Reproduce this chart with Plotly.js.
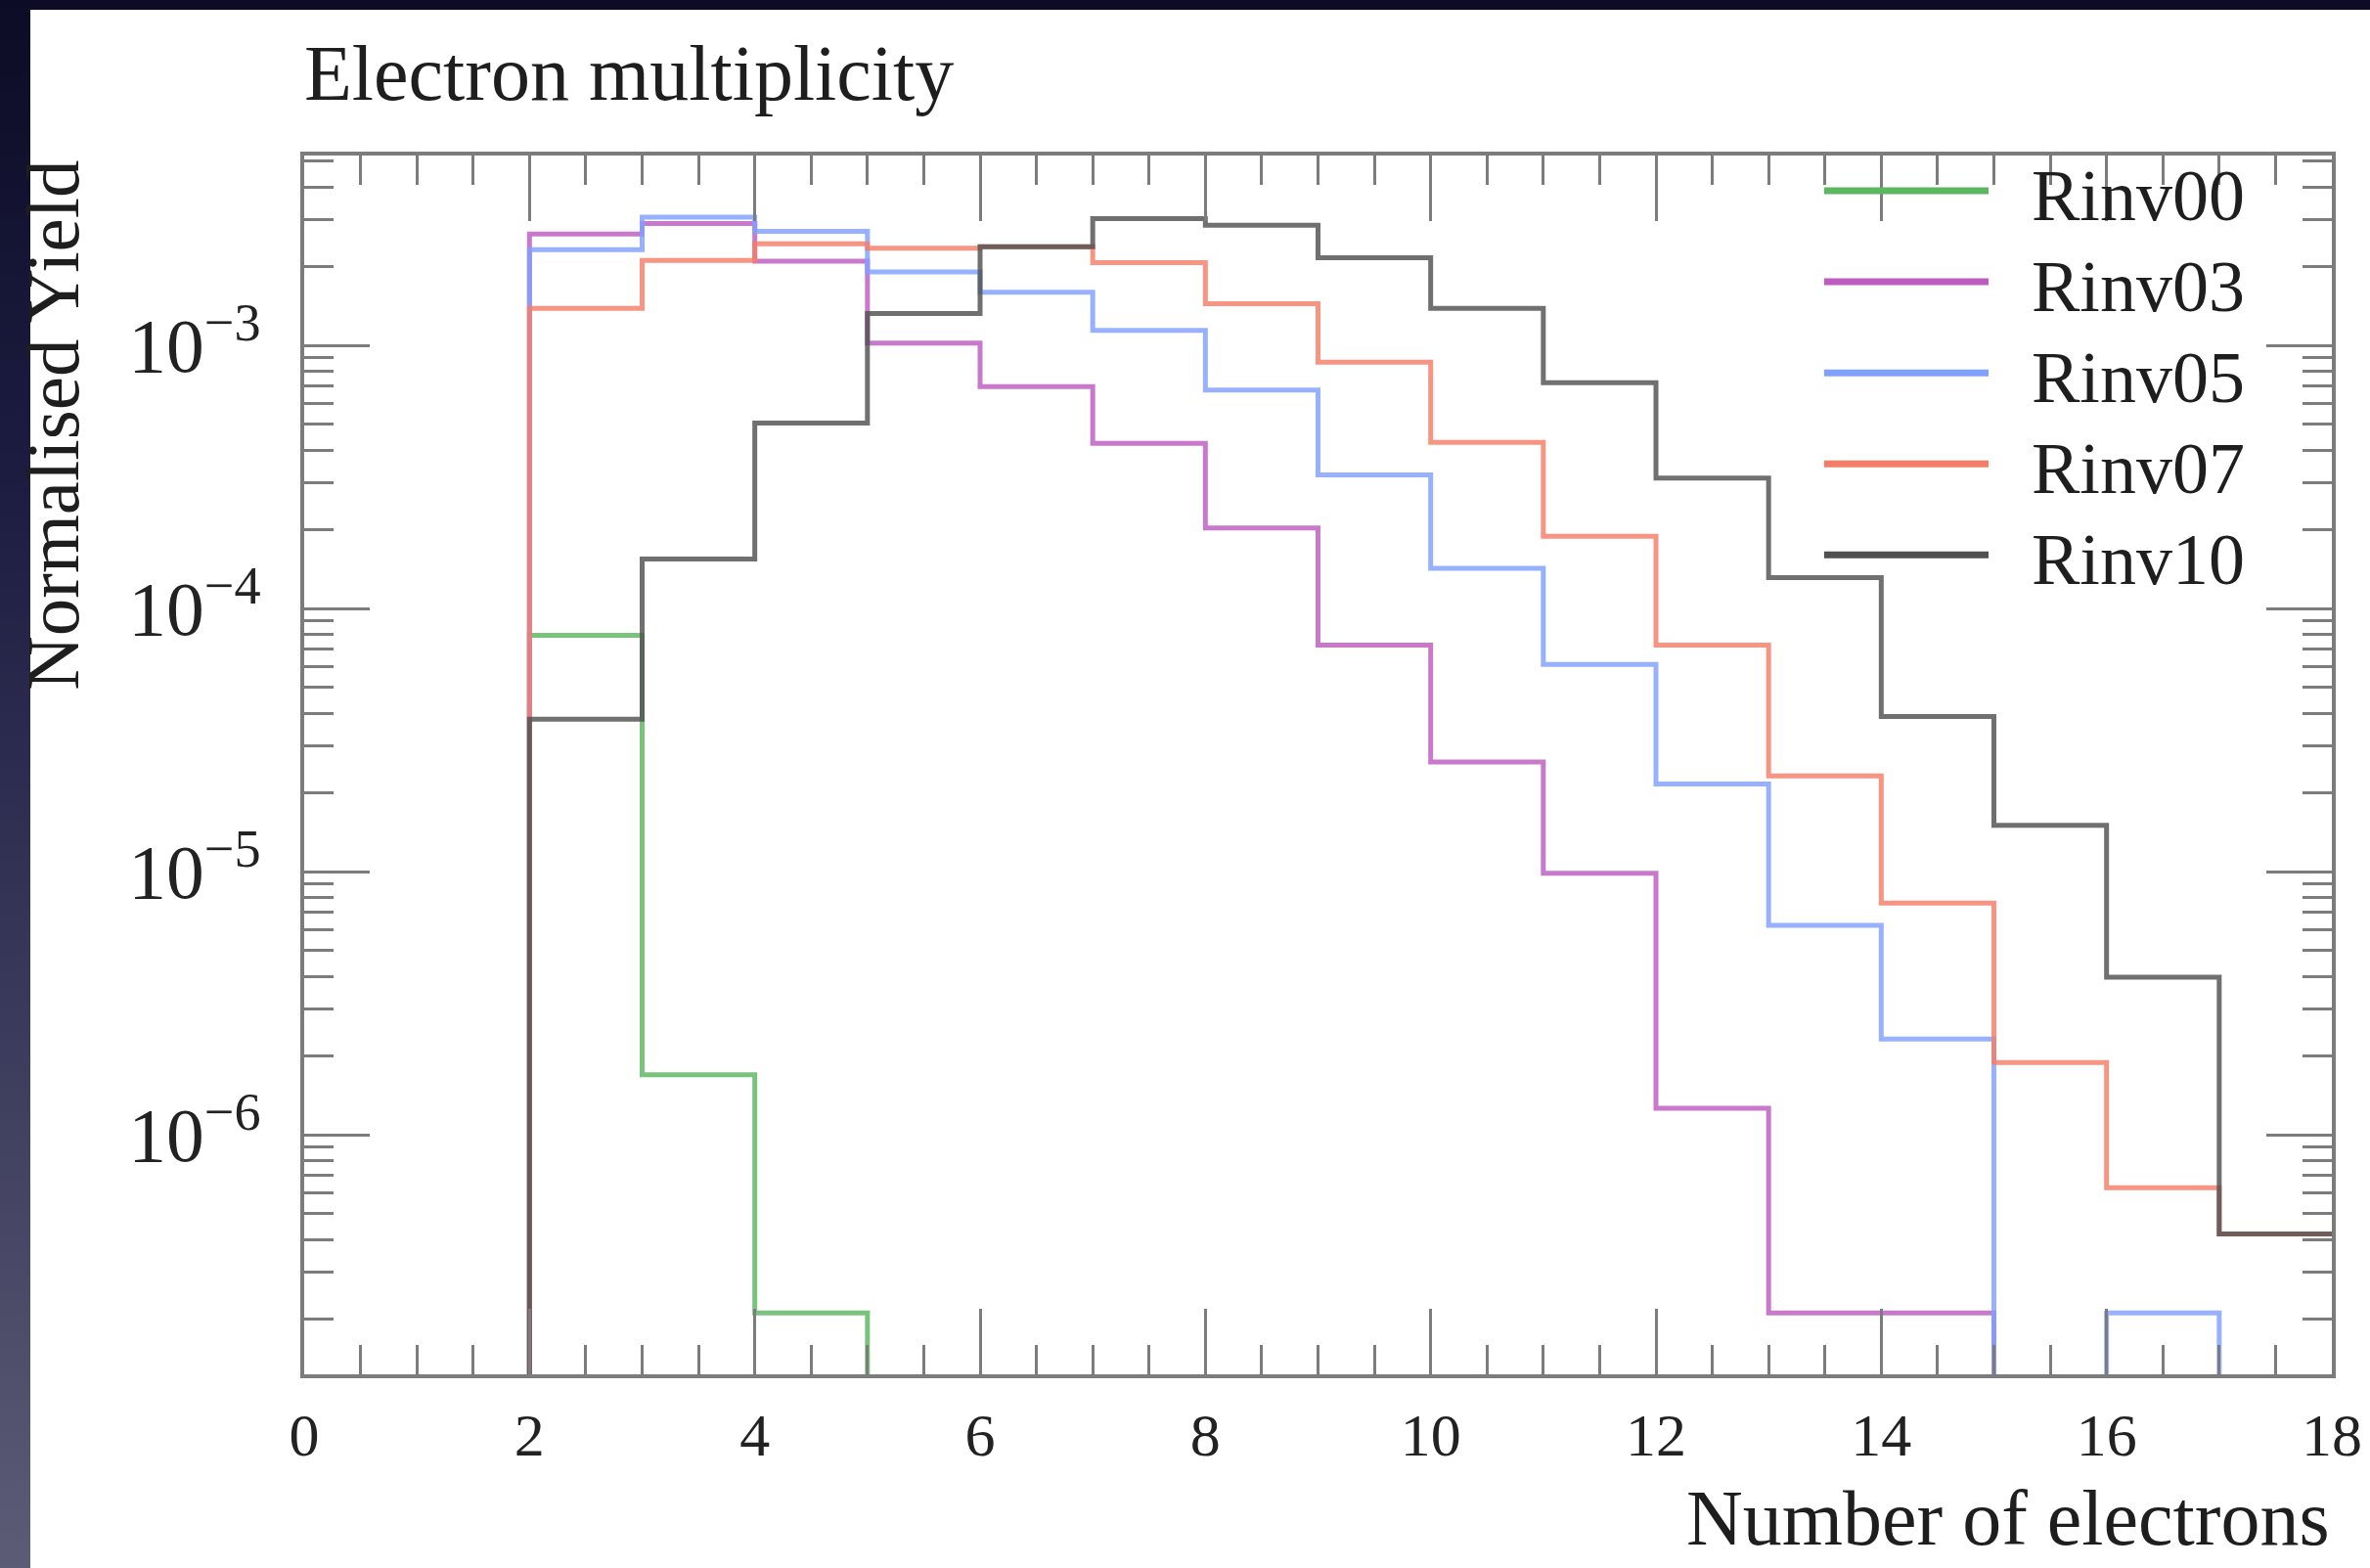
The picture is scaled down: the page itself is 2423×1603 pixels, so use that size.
<!DOCTYPE html>
<html>
<head>
<meta charset="utf-8">
<script src="https://cdn.plot.ly/plotly-3.0.1.min.js"></script>
<style>
  html, body { margin: 0; padding: 0; }
  body {
    width: 2423px; height: 1603px; overflow: hidden; position: relative;
    background: linear-gradient(to bottom, #0c0c26 0%, #1c1c40 30%, #3a3a5a 65%, #5c5c77 100%);
  }
  #chart {
    position: absolute; left: 0; top: 10px; width: 2423px; height: 1593px;
    background: linear-gradient(to right, rgba(0,0,0,0) 0px, rgba(0,0,0,0) 31px, #ffffff 31px, #ffffff 100%);
  }
</style>
</head>
<body>
<div id="chart"></div>
<script>
// ---- data (bin edges 0..18, one value per unit-wide bin) ----
const binEdges = [0,1,2,3,4,5,6,7,8,9,10,11,12,13,14,15,16,17,18];
const seriesNames = ["Rinv00", "Rinv03", "Rinv05", "Rinv07", "Rinv10"];
const rinv00 = [0,0,7.9e-5,1.69e-6,2.1e-7,0,0,0,0,0,0,0,0,0,0,0,0,0];
const rinv03 = [0,0,2.65e-3,2.90e-3,2.09e-3,1.02e-3,6.97e-4,4.24e-4,2.02e-4,7.26e-5,2.61e-5,9.86e-6,1.26e-6,2.1e-7,2.1e-7,0,0,0];
const rinv05 = [0,0,2.31e-3,3.07e-3,2.71e-3,1.90e-3,1.59e-3,1.14e-3,6.76e-4,3.22e-4,1.42e-4,6.12e-5,2.15e-5,6.25e-6,2.31e-6,0,2.1e-7,0];
const rinv07 = [0,0,1.38e-3,2.10e-3,2.43e-3,2.34e-3,2.37e-3,2.06e-3,1.44e-3,8.62e-4,4.28e-4,1.88e-4,7.26e-5,2.31e-5,7.59e-6,1.88e-6,6.29e-7,4.19e-7];
const rinv10 = [0,0,3.79e-5,1.54e-4,5.06e-4,1.32e-3,2.37e-3,3.03e-3,2.86e-3,2.15e-3,1.38e-3,7.21e-4,3.13e-4,1.31e-4,3.88e-5,1.50e-5,3.97e-6,4.19e-7];
const xTickVals = [0,2,4,6,8,10,12,14,16,18];
const xTickText = ["0","2","4","6","8","10","12","14","16","18"];

const seriesValues = [rinv00, rinv03, rinv05, rinv07, rinv10];
const seriesColors = ["#5cb660", "#bd5cc0", "#80a0ff", "#f57c66", "#505050"];

// empty bins are drawn at a level below the visible axis range (histogram drops to the frame)
const FLOOR = 1e-10;
const FONT = "Liberation Serif, Times New Roman, serif";

const traces = seriesValues.map((vals, i) => {
  const y = vals.map(v => (v > 0 ? v : FLOOR));
  y.push(y[y.length - 1]);
  return {
    type: "scatter",
    mode: "lines",
    name: seriesNames[i],
    x: binEdges,
    y: y,
    line: { shape: "hv", color: seriesColors[i], width: 5 },
    opacity: 0.82,
    showlegend: false,
    hoverinfo: "skip"
  };
});

// manual legend (long line samples, like the reference)
const legendTop = 0.9711, legendStep = 0.0747;
const shapes = seriesNames.map((n, i) => ({
  type: "line", xref: "paper", yref: "paper",
  x0: 0.7496, x1: 0.8307,
  y0: legendTop - i * legendStep, y1: legendTop - i * legendStep,
  line: { color: seriesColors[i], width: 7 }
}));
const annotations = seriesNames.map((n, i) => ({
  text: n, xref: "paper", yref: "paper",
  x: 0.851, xanchor: "left",
  y: legendTop - i * legendStep - 0.004, yanchor: "middle",
  showarrow: false,
  font: { family: FONT, size: 74, color: "#1e1e1e" }
}));
annotations.push({
  text: "Number of electrons", xref: "paper", yref: "paper",
  x: 1, xanchor: "right", y: -0.118, yanchor: "middle", showarrow: false,
  font: { family: FONT, size: 80, color: "#1e1e1e" }
});
annotations.push({
  text: "Normalised Yield", xref: "paper", yref: "paper", textangle: -90,
  x: -0.1238, xanchor: "center", y: 0.998, yanchor: "top", showarrow: false,
  font: { family: FONT, size: 77, color: "#1e1e1e" }
});

const axisCommon = {
  showline: true, mirror: "ticks", linecolor: "#7c7c7c", linewidth: 4,
  ticks: "inside", tickcolor: "#7c7c7c", tickwidth: 3, ticklen: 67,
  showgrid: false, zeroline: false,
  tickfont: { family: FONT, size: 62, color: "#222222" }
};

const layout = {
  width: 2423, height: 1593,
  margin: { l: 311, r: 39, t: 149, b: 198, pad: 0 },
  paper_bgcolor: "rgba(0,0,0,0)", plot_bgcolor: "#ffffff",
  showlegend: false,
  title: {
    text: "Electron multiplicity",
    font: { family: FONT, size: 80, color: "#1e1e1e" },
    xref: "paper", x: 0, xanchor: "left",
    yref: "container", y: 1 - 64 / 1593, yanchor: "middle"
  },
  xaxis: Object.assign({}, axisCommon, {
    range: [0, 18],
    tickmode: "array", tickvals: xTickVals, ticktext: xTickText,
    ticklabelstandoff: 5,
    minor: { dtick: 0.5, tick0: 0, ticks: "inside", ticklen: 30, tickwidth: 3, tickcolor: "#7c7c7c" }
  }),
  yaxis: Object.assign({}, axisCommon, {
    type: "log",
    range: [-6.9108, -2.2788],
    dtick: 1,
    exponentformat: "power", showexponent: "all",
    ticklabelstandoff: 28,
    minor: { dtick: "D1", ticks: "inside", ticklen: 30, tickwidth: 3, tickcolor: "#7c7c7c" }
  }),
  shapes: shapes,
  annotations: annotations
};

Plotly.newPlot("chart", traces, layout, { staticPlot: true, displayModeBar: false });
</script>
</body>
</html>
